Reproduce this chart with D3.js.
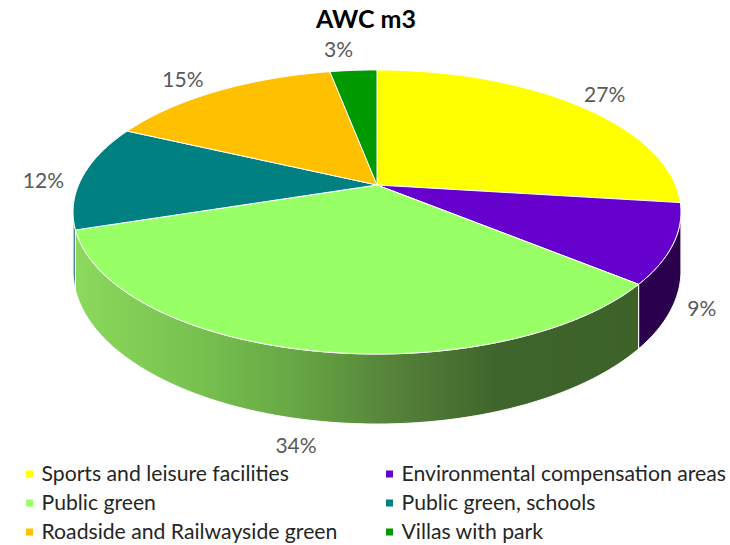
<!DOCTYPE html>
<html>
<head>
<meta charset="utf-8">
<script src="https://cdn.jsdelivr.net/npm/d3@7"></script>
<style>
  html, body { margin: 0; padding: 0; background: #fff; }
  svg { display: block; }
  text { font-family: Lato, "Open Sans", sans-serif; }
</style>
</head>
<body>
<svg id="chart" width="730" height="545"></svg>
<script>
// Chart data
const title = "AWC m3";
const categories = [
  "Sports and leisure facilities",
  "Environmental compensation areas",
  "Public green",
  "Public green, schools",
  "Roadside and Railwayside green",
  "Villas with park"
];
const values = [27, 9, 34, 12, 15, 3];
const topColors = ["#ffff00", "#6600cc", "#99ff66", "#008080", "#ffc000", "#009900"];
const sideColors = ["#7a7a00", "#2a004d", "url(#greenSide)", "#4a8a90", "#8a6a00", "#005000"];

// Layout of the tilted disc (perspective ellipse)
const W = 730, H = 545;
const cx = 377, cy = 185;     // pie centre on screen
const rx = 298.4, ry = 136.9; // disc radii before perspective
const persp = 0.19;           // perspective strength (near edge larger)
const depth = 56.7;           // disc thickness

const svg = d3.select("#chart");
const defs = svg.append("defs");

// Side shading of the front slice: light on the left, dark on the right
const grad = defs.append("linearGradient")
  .attr("id", "greenSide")
  .attr("gradientUnits", "userSpaceOnUse")
  .attr("x1", 75).attr("y1", 0).attr("x2", 640).attr("y2", 0);
[[0, "#8bd95d"], [0.22, "#77c14f"], [0.4, "#66a544"], [0.58, "#547f39"],
 [0.75, "#3e652b"], [1, "#3c6229"]].forEach(([o, c]) =>
  grad.append("stop").attr("offset", o).attr("stop-color", c));

const color = d3.scaleOrdinal().domain(categories).range(topColors);
const sideColor = d3.scaleOrdinal().domain(categories).range(sideColors);

// Screen position of a point on the disc: angle t (0 = 3 o'clock, clockwise),
// relative radius r, vertical drop z (0 = top face).
function proj(t, r, z) {
  const s = Math.sin(t);
  const w = 1 / (1 - persp * s);
  return [cx + rx * r * Math.cos(t) * w, cy + (ry * r * s + z) * w];
}

function arcPoints(a0, a1, z) {
  const n = Math.max(2, Math.ceil(Math.abs(a1 - a0) / 0.01));
  return d3.range(n + 1).map(i => proj(a0 + (a1 - a0) * i / n, 1, z));
}

const pie = d3.pie().sort(null).value(d => d.value)
  .startAngle(0).endAngle(2 * Math.PI);
const slices = pie(categories.map((c, i) => ({ name: c, value: values[i] })))
  .map(d => Object.assign(d, { t0: d.startAngle - Math.PI / 2, t1: d.endAngle - Math.PI / 2 }));

const line = d3.line();

// Visible part of the rim lies between the two silhouette angles
const sil0 = Math.asin(persp), sil1 = Math.PI - Math.asin(persp);

const sides = svg.append("g");
slices.forEach(d => {
  const a0 = Math.max(d.t0, sil0), a1 = Math.min(d.t1, sil1);
  if (a1 <= a0) return;
  const pts = arcPoints(a0, a1, 0).concat(arcPoints(a1, a0, depth));
  sides.append("path")
    .attr("d", line(pts) + "Z")
    .attr("fill", sideColor(d.data.name))
    .attr("stroke", "#ffffff")
    .attr("stroke-width", 1)
    .attr("stroke-linejoin", "round");
});

const tops = svg.append("g");
slices.forEach(d => {
  const pts = [[cx, cy]].concat(arcPoints(d.t0, d.t1, 0));
  tops.append("path")
    .attr("d", line(pts) + "Z")
    .attr("fill", color(d.data.name))
    .attr("stroke", "#ffffff")
    .attr("stroke-width", 1)
    .attr("stroke-linejoin", "round");
});

// Percentage labels just outside the rim
const labelNudge = [[5, 0], [-7, -4], [-4, 6], [-4, 5], [-16, 0], [-12, -7]];
const labels = svg.append("g")
  .attr("font-size", 21).attr("fill", "#595959").attr("text-anchor", "middle");
slices.forEach((d, i) => {
  const tm = (d.t0 + d.t1) / 2;
  const s = Math.sin(tm);
  const w = 1 / (1 - persp * s);
  let x = cx + rx * 1.12 * Math.cos(tm) * w;
  let y = cy + ry * 1.12 * s * w + (s > 0 ? depth * w : 0);
  x += labelNudge[i][0]; y += labelNudge[i][1];
  labels.append("text")
    .attr("x", x).attr("y", y + 7.5)
    .text(d3.format(".0f")(d.value) + "%");
});

// Title
svg.append("text")
  .attr("x", 366).attr("y", 28)
  .attr("text-anchor", "middle")
  .attr("font-size", 25).attr("font-weight", 700).attr("fill", "#000")
  .text(title);

// Legend: two columns, three rows
const legendX = d3.scaleOrdinal().domain([0, 1]).range([26, 386]);
const legendY = d3.scaleLinear().domain([0, 1]).range([474, 503]);
const legend = svg.append("g");
categories.forEach((c, i) => {
  const col = i % 2, row = Math.floor(i / 2);
  const g = legend.append("g")
    .attr("transform", `translate(${legendX(col)},${legendY(row)})`);
  g.append("rect").attr("x", 0).attr("y", -3.5).attr("width", 7).attr("height", 7)
    .attr("fill", color(c));
  g.append("text").attr("x", 15.5).attr("y", 7)
    .attr("font-size", 21.2).attr("fill", "#262626")
    .text(c);
});
</script>
</body>
</html>
